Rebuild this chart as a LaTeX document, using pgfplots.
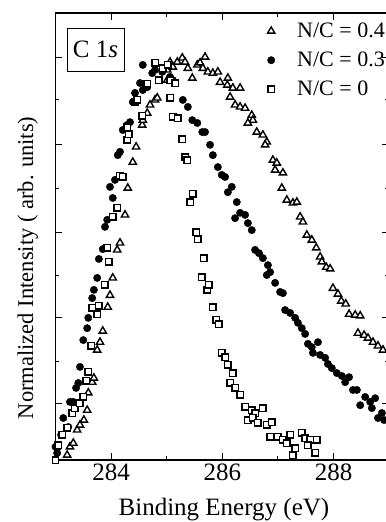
\documentclass[border=0pt]{standalone}
\usepackage{fontspec}
\setmainfont{Liberation Serif}
\usepackage{pgfplots}
\pgfplotsset{compat=1.18}
\usepackage{pgfplotstable}

\pgfplotstableread{
x y
283.21 0.012
283.26 0.032
283.32 0.041
283.39 0.073
283.44 0.085
283.51 0.097
283.57 0.121
283.59 0.163
283.66 0.189
283.69 0.199
283.75 0.267
283.80 0.286
283.85 0.313
283.94 0.371
283.98 0.400
284.03 0.442
284.11 0.510
284.16 0.527
284.25 0.595
284.30 0.660
284.39 0.723
284.45 0.760
284.56 0.813
284.57 0.825
284.65 0.842
284.70 0.862
284.79 0.874
284.83 0.879
285.01 0.922
285.01 0.947
285.06 0.966
285.11 0.954
285.19 0.966
285.28 0.976
285.33 0.966
285.38 0.951
285.46 0.927
285.55 0.959
285.60 0.964
285.65 0.951
285.69 0.978
285.74 0.942
285.83 0.939
285.92 0.942
285.96 0.917
286.10 0.927
286.09 0.910
286.19 0.903
286.32 0.903
286.14 0.881
286.23 0.862
286.32 0.857
286.41 0.854
286.53 0.837
286.55 0.825
286.46 0.818
286.62 0.796
286.73 0.789
286.80 0.772
286.77 0.765
286.91 0.728
286.98 0.721
286.95 0.704
287.09 0.697
287.07 0.660
287.16 0.631
287.27 0.624
287.34 0.626
287.40 0.590
287.45 0.578
287.52 0.546
287.61 0.534
287.69 0.515
287.76 0.493
287.79 0.481
287.87 0.468
287.94 0.464
287.99 0.417
288.08 0.403
288.14 0.386
288.22 0.379
288.28 0.354
288.39 0.352
288.48 0.350
288.44 0.308
288.55 0.303
288.62 0.296
288.71 0.286
288.80 0.277
288.89 0.267
}\tri

\pgfplotstableread{
x y
283.00 0.032
283.03 0.017
283.05 0.032
283.10 0.061
283.14 0.102
283.23 0.080
283.26 0.141
283.32 0.141
283.37 0.175
283.41 0.187
283.44 0.226
283.50 0.291
283.57 0.320
283.59 0.345
283.66 0.393
283.69 0.413
283.75 0.442
283.78 0.488
283.85 0.512
283.89 0.566
283.93 0.583
283.98 0.663
284.03 0.636
284.07 0.680
284.12 0.740
284.16 0.748
284.21 0.801
284.29 0.813
284.34 0.820
284.39 0.869
284.43 0.891
284.52 0.915
284.57 0.898
284.57 0.959
284.65 0.905
284.74 0.939
284.79 0.947
284.92 0.942
285.06 0.930
285.11 0.922
285.29 0.874
285.38 0.857
285.46 0.825
285.55 0.818
285.64 0.796
285.69 0.796
285.78 0.765
285.83 0.740
285.92 0.711
285.99 0.692
286.05 0.687
286.10 0.650
286.17 0.663
286.26 0.626
286.23 0.587
286.32 0.600
286.41 0.595
286.46 0.575
286.53 0.558
286.59 0.510
286.66 0.502
286.73 0.490
286.82 0.473
286.86 0.456
286.80 0.449
286.95 0.430
287.04 0.408
287.09 0.405
287.13 0.364
287.22 0.357
287.31 0.345
287.36 0.333
287.43 0.320
287.49 0.306
287.54 0.282
287.61 0.274
287.72 0.286
287.63 0.260
287.76 0.255
287.85 0.248
287.90 0.233
287.97 0.223
288.06 0.211
288.15 0.204
288.21 0.189
288.28 0.201
288.35 0.170
288.42 0.170
288.48 0.133
288.57 0.153
288.66 0.141
288.75 0.150
288.69 0.126
288.80 0.102
288.87 0.114
288.91 0.097
}\circ

\pgfplotstableread{
x y
283.00 0.000
283.05 0.036
283.12 0.061
283.21 0.078
283.30 0.114
283.35 0.126
283.44 0.138
283.50 0.153
283.55 0.192
283.59 0.214
283.64 0.277
283.66 0.369
283.75 0.354
283.78 0.374
283.89 0.425
283.93 0.515
283.96 0.481
284.03 0.590
284.11 0.612
284.16 0.690
284.21 0.687
284.29 0.777
284.32 0.791
284.29 0.808
284.43 0.869
284.47 0.874
284.56 0.835
284.65 0.913
284.79 0.964
284.86 0.922
284.93 0.951
285.02 0.959
285.06 0.922
285.15 0.915
285.06 0.879
285.11 0.833
285.20 0.830
285.28 0.779
285.33 0.735
285.37 0.728
285.42 0.626
285.47 0.646
285.53 0.553
285.56 0.536
285.63 0.444
285.67 0.490
285.73 0.413
285.76 0.425
285.83 0.371
285.89 0.340
285.94 0.330
285.99 0.260
286.05 0.250
286.10 0.231
286.19 0.211
286.14 0.187
286.23 0.175
286.32 0.158
286.41 0.129
286.53 0.121
286.59 0.114
286.73 0.126
286.46 0.097
286.55 0.102
286.64 0.090
286.80 0.085
286.89 0.092
286.86 0.056
287.00 0.056
287.09 0.049
287.16 0.041
287.22 0.061
287.31 0.029
287.27 0.012
287.43 0.066
287.49 0.053
287.58 0.049
287.54 0.036
287.70 0.049
287.67 0.017
}\sq

\begin{document}
\begin{tikzpicture}
\begin{axis}[
  scale only axis, width=333.6pt, height=447pt,
  xmin=283, xmax=289, ymin=0, ymax=1.085,
  xtick={284,286,288}, minor xtick={283,285,287,289},
  ytick={0.136,0.345,0.553,0.767,0.978},
  minor ytick={0.238,0.449,0.660,0.874},
  yticklabels={},
  tick align=inside,
  major tick length=7pt, minor tick length=4pt,
  axis line style={line width=1.3pt},
  every tick/.style={line width=1pt, black},
  ticklabel style={font=\fontsize{25}{30}\selectfont},
  /pgf/number format/assume math mode=true,
  /pgf/number format/1000 sep={},
  xlabel={Binding Energy (eV)},
  ylabel={Normalized Intensity ( arb. units)},
  label style={inner sep=0pt},
  xlabel style={font=\fontsize{25}{30}\selectfont, at={(rel axis cs:0.505,-0.125)}, anchor=base},
  ylabel style={font=\fontsize{22.5}{27}\selectfont, at={(rel axis cs:-0.0674,0.43)}, anchor=base},
  clip=false,
  legend style={draw=none, fill=none, at={(rel axis cs:0.607,0.978)}, anchor=north west,
    font=\fontsize{22}{26}\selectfont, row sep=13pt, inner sep=0pt,
    nodes={inner sep=0pt}},
  legend cell align=left,
  legend image code/.code={\draw[#1, only marks] plot coordinates {(13pt,0pt)}; \path[draw=none, fill=none] (0pt,0pt) -- (39pt,0pt);},
]
\addplot[only marks, mark=triangle*, mark size=4.2pt, mark options={fill=white, draw=black, line width=1.4pt}] table[x=x,y=y] {\tri};
\addlegendentry{N/C = 0.4}
\addplot[only marks, mark=*, mark size=3.7pt, mark options={fill=black, draw=black}] table[x=x,y=y] {\circ};
\addlegendentry{N/C = 0.37}
\addplot[only marks, mark=square*, mark size=3.2pt, mark options={fill=white, draw=black, line width=1.4pt}] table[x=x,y=y] {\sq};
\addlegendentry{N/C = 0}
\node[draw, line width=1pt, minimum width=57pt, minimum height=43pt, inner sep=0pt,
  font=\fontsize{25}{30}\selectfont] at (rel axis cs:0.12,0.918) {C 1\textit{s}};
\end{axis}
\pgfresetboundingbox
\path[use as bounding box] ([xshift=-55.5pt,yshift=-62pt]current axis.south west) rectangle ([xshift=-4pt,yshift=13pt]current axis.north east);
\end{tikzpicture}
\end{document}
